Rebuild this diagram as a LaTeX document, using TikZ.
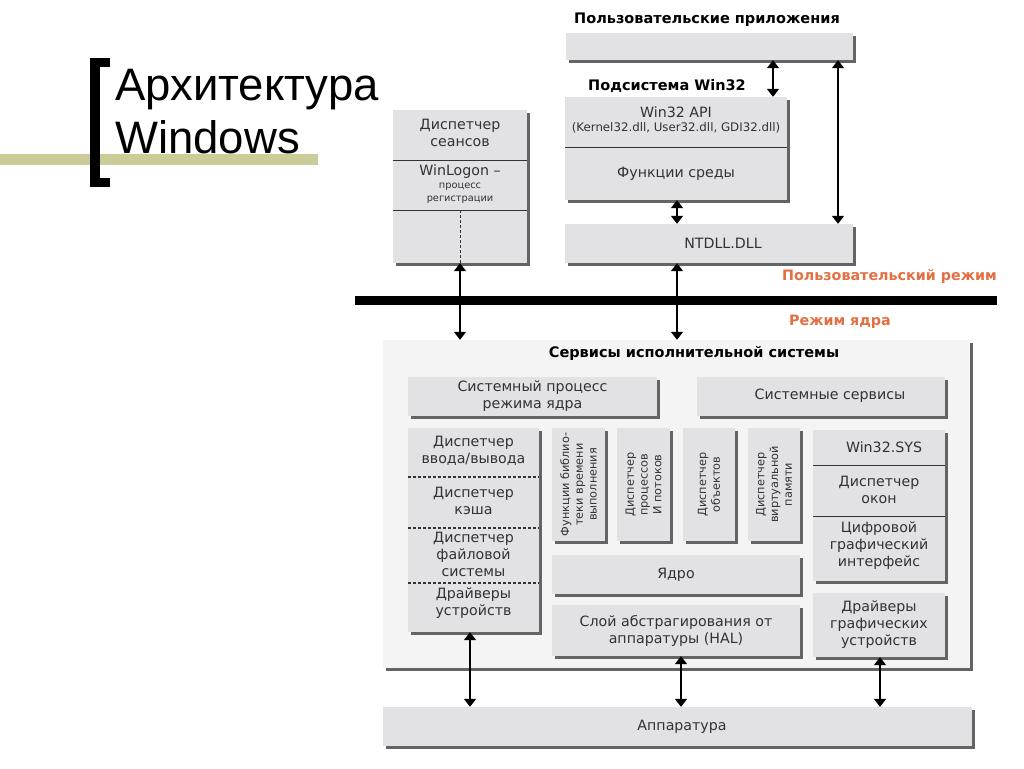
\documentclass[tikz,border=0pt]{standalone}
\usepackage{fontspec}
\setmainfont{DejaVu Sans}
\newfontfamily\titlefont{Liberation Sans}
\usetikzlibrary{arrows.meta,shadows}
\definecolor{boxfill}{RGB}{226,226,228}
\definecolor{outerfill}{RGB}{244,244,244}
\definecolor{shadowc}{RGB}{100,100,100}
\definecolor{olivebar}{RGB}{204,204,153}
\definecolor{modeorange}{RGB}{226,112,66}
\definecolor{txt}{RGB}{50,50,50}
\begin{document}
\begin{tikzpicture}[x=1pt,y=-1pt,
  box/.style={fill=boxfill, draw=none, inner sep=0pt, align=center, text=txt,
    font=\fontsize{14.2}{17}\selectfont,
    drop shadow={shadow xshift=2.6pt, shadow yshift=-2.6pt, fill=shadowc, opacity=1}},
  outerbox/.style={box, fill=outerfill},
  lbl/.style={inner sep=0pt, align=center, text=txt, font=\fontsize{14.2}{17}\selectfont},
  small/.style={lbl, font=\fontsize{11.8}{14}\selectfont},
  tiny/.style={lbl, font=\fontsize{9.8}{13}\selectfont},
  vert/.style={lbl, rotate=90, font=\fontsize{11.3}{13.8}\selectfont},
  head/.style={inner sep=0pt, font=\bfseries\fontsize{14.5}{17}\selectfont, text=black},
  mode/.style={inner sep=0pt, font=\bfseries\fontsize{14.3}{17}\selectfont, text=modeorange},
  divider/.style={line width=0.9pt, black!80},
  ddivider/.style={line width=1.2pt, black!80, dash pattern=on 3pt off 2pt},
  biarrow/.style={{Triangle[width=12pt,length=8pt]}-{Triangle[width=12pt,length=8pt]}, line width=1.7pt, black},
  bigbar/.style={line width=9pt, black},
  title/.style={inner sep=0pt, anchor=base west, font=\titlefont\fontsize{45.5}{53}\selectfont, text=black}
]
\useasboundingbox (0,0) rectangle (1024,768);
% ---------- title ----------
\fill[olivebar] (0,154) rectangle (318,165);
\draw[line width=9.5pt, miter limit=10] (110,62.5) -- (95,62.5) -- (95,182.5) -- (110,182.5);
\node[title] (t1) at (115,100) {Архитектура};
\node[title] (t2) at (115,153) {Windows};

% ---------- user mode ----------
\node[head] (happs) at (707,20) {Пользовательские приложения};
\node[box, minimum width=287pt, minimum height=27pt] (apps) at (709.5,46.5) {};
\node[head] (hwin) at (667,86) {Подсистема Win32};
\node[box, minimum width=222pt, minimum height=103pt] (win32) at (676,148.5) {};
\draw[divider] (win32.west |- 0,147) -- (win32.east |- 0,147);
\node[lbl] (api) at (676,112) {Win32 API};
\node[small] (apidll) at (676,127.5) {(Kernel32.dll, User32.dll, GDI32.dll)};
\node[lbl] (env) at (676,174) {Функции среды};
\node[box, minimum width=288pt, minimum height=39pt] (ntdll) at (709,243.5) {};
\node[lbl] (ntdllt) at (723,243.5) {NTDLL.DLL};

\node[box, minimum width=134pt, minimum height=153pt] (sess) at (460,186.5) {};
\draw[divider] (sess.west |- 0,160) -- (sess.east |- 0,160);
\draw[divider] (sess.west |- 0,210) -- (sess.east |- 0,210);
\node[lbl] (sesst) at (460,133) {Диспетчер\\сеансов};
\node[lbl] (winlog) at (460,172) {WinLogon –};
\node[tiny] (reg) at (460,193.5) {процесс\\регистрации};
\coordinate (sd) at (460,210);
\draw[ddivider, line width=1pt] (sd) -- (sess.south -| sd);

% ---------- mode bar ----------
\coordinate (barL) at (355,300);
\coordinate (barR) at (997,300);
\draw[bigbar] (barL) -- (barR);
\node[mode, anchor=east] (umode) at (997,277) {Пользовательский режим};
\node[mode] (kmode) at (840,322) {Режим ядра};

% ---------- kernel ----------
\node[outerbox, minimum width=587pt, minimum height=328pt] (kern) at (676.5,504) {};
\node[head] (hkern) at (694,353) {Сервисы исполнительной системы};
\node[box, minimum width=249pt, minimum height=39pt] (sysproc) at (532.5,396.5) {Системный процесс\\режима ядра};
\node[box, minimum width=248pt, minimum height=39pt] (syssvc) at (821,396.5) {};
\node[lbl] (syssvct) at (830,395.5) {Системные сервисы};

\node[box, minimum width=131pt, minimum height=204pt] (leftcol) at (473.5,530) {};
\draw[ddivider] (leftcol.west |- 0,477) -- (leftcol.east |- 0,477);
\draw[ddivider] (leftcol.west |- 0,528) -- (leftcol.east |- 0,528);
\draw[ddivider] (leftcol.west |- 0,583) -- (leftcol.east |- 0,583);
\node[lbl] (io) at (473.5,451) {Диспетчер\\ввода/вывода};
\node[lbl] (cache) at (473.5,500.5) {Диспетчер\\кэша};
\node[lbl] (fs) at (473.5,554) {Диспетчер\\файловой\\системы};
\node[lbl] (drv) at (473.5,603) {Драйверы\\устройств};

\node[box, minimum width=53pt, minimum height=113pt] (v1) at (578.5,484.5) {};
\node[box, minimum width=53pt, minimum height=113pt] (v2) at (643.5,484.5) {};
\node[box, minimum width=52pt, minimum height=113pt] (v3) at (709,484.5) {};
\node[box, minimum width=52pt, minimum height=113pt] (v4) at (774,484.5) {};
\node[vert] (v1t) at (v1.center) {Функции библио-\\теки времени\\выполнения};
\node[vert] (v2t) at (v2.center) {Диспетчер\\процессов\\И потоков};
\node[vert] (v3t) at (v3.center) {Диспетчер\\объектов};
\node[vert] (v4t) at (v4.center) {Диспетчер\\виртуальной\\памяти};

\node[box, minimum width=248pt, minimum height=39pt] (core) at (676,574.5) {Ядро};
\node[box, minimum width=248pt, minimum height=51pt] (hal) at (676,630.5) {Слой абстрагирования от\\аппаратуры (HAL)};

\node[box, minimum width=132pt, minimum height=151pt] (w32sys) at (879,505.5) {};
\draw[divider] (w32sys.west |- 0,465) -- (w32sys.east |- 0,465);
\draw[divider] (w32sys.west |- 0,516) -- (w32sys.east |- 0,516);
\node[lbl] (w32t) at (884,447.5) {Win32.SYS};
\node[lbl] (wm) at (879,489.5) {Диспетчер\\окон};
\node[lbl] (gdi) at (879,546) {Цифровой\\графический\\интерфейс};
\node[box, minimum width=132pt, minimum height=64pt] (gdrv) at (879,625) {Драйверы\\графических\\устройств};

\node[box, minimum width=589pt, minimum height=39pt] (hw) at (677.5,726.5) {};
\node[lbl] (hwt) at (682,726.5) {Аппаратура};

% ---------- arrows ----------
\coordinate (xa) at (773,0);
\coordinate (xb) at (838,0);
\coordinate (xc) at (677,0);
\coordinate (xd) at (460,0);
\coordinate (xe) at (470,0);
\coordinate (xf) at (681,0);
\coordinate (xg) at (880,0);
\draw[biarrow] (apps.south -| xa) -- (win32.north -| xa);
\draw[biarrow] (apps.south -| xb) -- (ntdll.north -| xb);
\draw[biarrow] (win32.south -| xc) -- (ntdll.north -| xc);
\draw[biarrow] (sess.south -| xd) -- (kern.north -| xd);
\draw[biarrow] (ntdll.south -| xc) -- (kern.north -| xc);
\draw[biarrow] (leftcol.south -| xe) -- (hw.north -| xe);
\draw[biarrow] (hal.south -| xf) -- (hw.north -| xf);
\draw[biarrow] (gdrv.south -| xg) -- (hw.north -| xg);
\end{tikzpicture}
\end{document}
